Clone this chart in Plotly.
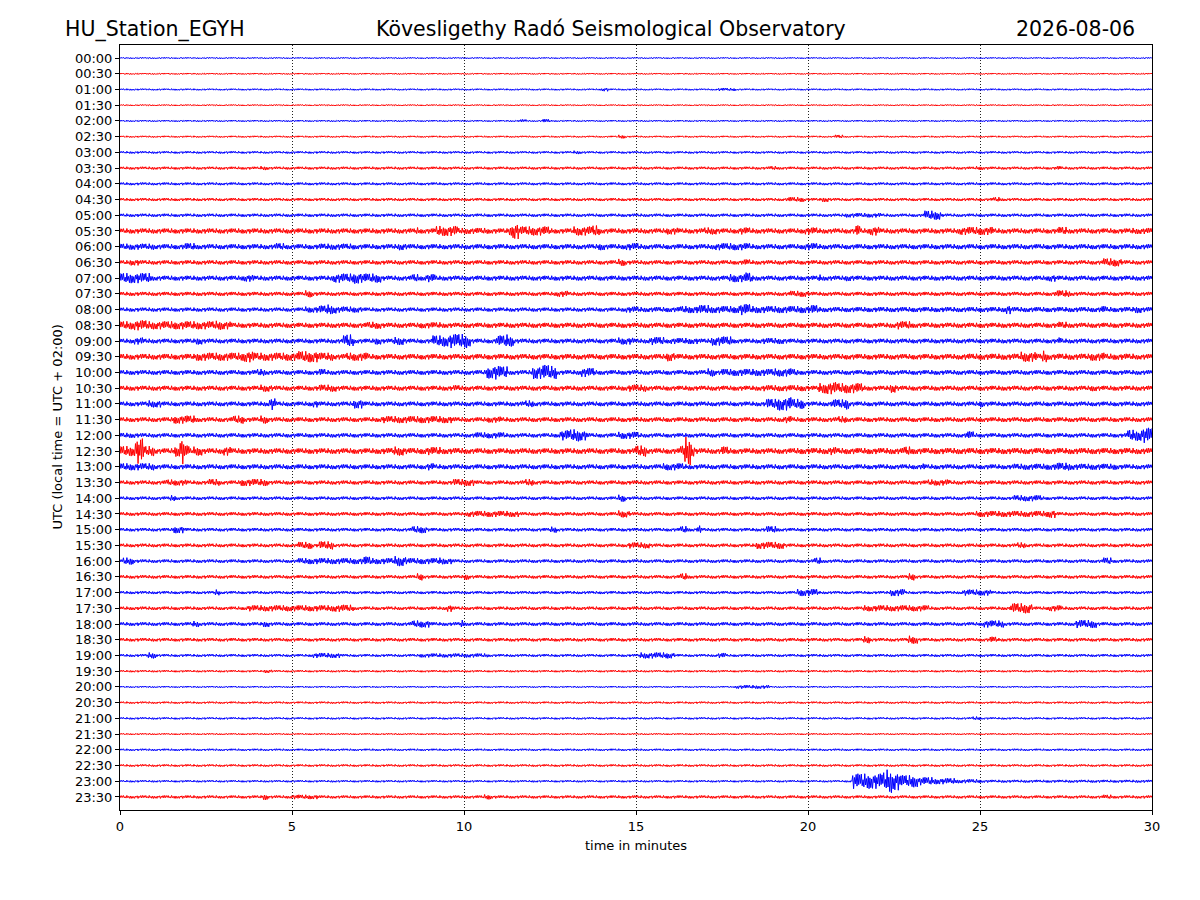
import numpy as np
import plotly.graph_objects as go

# ---------------- data ----------------
ROW_LABELS = ["00:00", "00:30", "01:00", "01:30", "02:00", "02:30", "03:00", "03:30",
              "04:00", "04:30", "05:00", "05:30", "06:00", "06:30", "07:00", "07:30",
              "08:00", "08:30", "09:00", "09:30", "10:00", "10:30", "11:00", "11:30",
              "12:00", "12:30", "13:00", "13:30", "14:00", "14:30", "15:00", "15:30",
              "16:00", "16:30", "17:00", "17:30", "18:00", "18:30", "19:00", "19:30",
              "20:00", "20:30", "21:00", "21:30", "22:00", "22:30", "23:00", "23:30"]

X_TICKS = [0, 5, 10, 15, 20, 25, 30]

# background noise half-amplitude per row (counts; ~15.7 counts = one row spacing)
BASE_LEVEL = [0.8, 0.8, 0.9, 0.8, 0.9, 0.9, 1.2, 1.4, 1.4, 1.5,
              1.6, 2.5, 2.5, 2.1, 2.4, 2.0, 2.0, 2.5, 2.3, 2.7,
              2.3, 2.4, 2.3, 2.3, 2.1, 2.7, 2.4, 2.0, 1.7, 1.8,
              1.7, 1.8, 1.7, 1.7, 1.5, 1.7, 1.8, 1.7, 1.4, 1.1,
              0.9, 1.1, 1.1, 0.9, 1.1, 1.2, 1.1, 1.5]

# bursts: (row, start minute, end minute, half-amplitude counts)
EVENTS = [
    (2, 14.0, 14.2, 1.8), (2, 17.4, 17.9, 1.5),
    (4, 11.6, 11.8, 1.5), (4, 12.3, 12.5, 1.8),
    (5, 14.5, 14.7, 1.8), (5, 20.8, 21.0, 1.8),
    (6, 13.2, 13.4, 1.7),
    (7, 4.1, 4.3, 2.0), (7, 18.9, 19.1, 2.0), (7, 24.9, 25.1, 1.9), (7, 27.2, 27.4, 2.0),
    (9, 19.4, 19.9, 2.4), (9, 20.4, 20.6, 2.4), (9, 25.4, 25.6, 2.4),
    (10, 21.1, 22.1, 2.2), (10, 23.4, 23.9, 4.5),
    (11, 8.6, 8.7, 3.5), (11, 9.2, 9.8, 5.0), (11, 9.8, 10.7, 3.0), (11, 11.3, 12.5, 4.5),
    (11, 11.4, 11.6, 8.0), (11, 13.2, 13.95, 4.5), (11, 13.75, 13.9, 5.5), (11, 15.9, 16.2, 3.5),
    (11, 17.0, 17.35, 3.5), (11, 18.0, 18.3, 3.5), (11, 19.9, 20.3, 3.5), (11, 21.4, 21.5, 5.5),
    (11, 21.8, 22.05, 4.5), (11, 24.4, 25.4, 4.0), (11, 27.3, 27.5, 4.0), (11, 29.4, 30.0, 3.0),
    (12, 0.0, 1.0, 3.0), (12, 1.9, 2.2, 3.5), (12, 4.55, 4.75, 3.5), (12, 5.8, 6.8, 3.0),
    (12, 8.1, 8.3, 3.5), (12, 13.9, 14.1, 3.5), (12, 14.7, 15.1, 3.5), (12, 17.3, 18.3, 3.5),
    (12, 19.9, 20.3, 3.5),
    (13, 0.3, 0.6, 3.0), (13, 14.5, 14.7, 3.5), (13, 18.1, 18.3, 3.0), (13, 28.6, 29.1, 4.0),
    (14, 0.0, 0.9, 5.0), (14, 3.6, 3.9, 3.5), (14, 6.2, 7.6, 4.5), (14, 6.8, 7.0, 5.5),
    (14, 8.5, 8.7, 4.0), (14, 8.9, 9.2, 4.0), (14, 17.7, 18.4, 4.0), (14, 18.2, 18.35, 5.5),
    (14, 20.3, 20.4, 3.5), (14, 21.1, 21.3, 3.0), (14, 27.0, 27.2, 3.5),
    (15, 5.4, 5.6, 3.5), (15, 12.7, 13.0, 3.0), (15, 19.5, 20.0, 3.0), (15, 27.2, 27.6, 3.5),
    (16, 5.4, 7.0, 3.0), (16, 5.8, 6.3, 4.0), (16, 6.0, 6.15, 5.0), (16, 14.7, 15.1, 3.0),
    (16, 15.0, 30.0, 2.5), (16, 16.3, 20.3, 3.5), (16, 16.8, 17.1, 4.5), (16, 18.0, 18.3, 5.5),
    (16, 20.1, 20.3, 4.5), (16, 25.75, 25.9, 4.5), (16, 28.5, 28.7, 3.5), (16, 29.5, 29.7, 3.5),
    (17, 0.0, 3.2, 4.0), (17, 0.4, 0.8, 5.0), (17, 2.8, 3.0, 4.5), (17, 7.2, 7.6, 3.5),
    (17, 8.7, 9.3, 3.0), (17, 22.6, 23.0, 4.0), (17, 27.3, 27.5, 3.5),
    (18, 0.4, 0.7, 3.5), (18, 2.2, 2.4, 3.5), (18, 6.5, 6.8, 5.5), (18, 6.6, 6.7, 6.5),
    (18, 7.4, 7.6, 3.5), (18, 7.95, 8.25, 4.0), (18, 9.1, 10.2, 5.5), (18, 9.6, 10.1, 7.0),
    (18, 10.95, 11.45, 5.5), (18, 11.2, 11.3, 6.5), (18, 14.5, 14.9, 3.5), (18, 15.4, 15.8, 4.0),
    (18, 16.0, 16.8, 3.0), (18, 17.2, 17.8, 4.5), (18, 18.7, 19.3, 3.0), (18, 27.3, 27.4, 3.5),
    (19, 0.0, 2.2, 2.8), (19, 2.2, 6.2, 4.0), (19, 3.6, 3.9, 5.5), (19, 5.2, 5.8, 5.5),
    (19, 6.6, 7.2, 4.0), (19, 15.9, 16.1, 4.5), (19, 24.5, 29.5, 3.0), (19, 26.2, 26.65, 5.0),
    (19, 26.8, 26.95, 6.0), (19, 28.2, 28.6, 4.0),
    (20, 4.0, 4.2, 3.5), (20, 5.8, 5.95, 3.5), (20, 10.65, 11.25, 6.0), (20, 10.85, 11.0, 7.0),
    (20, 12.0, 12.7, 6.5), (20, 12.3, 12.5, 7.5), (20, 13.4, 13.8, 4.5), (20, 17.1, 17.3, 4.0),
    (20, 17.5, 19.7, 3.5), (20, 19.0, 19.5, 4.0),
    (21, 4.1, 4.4, 3.5), (21, 5.8, 6.3, 3.5), (21, 9.7, 9.9, 3.0), (21, 14.8, 15.3, 3.5),
    (21, 18.7, 20.0, 3.0), (21, 20.3, 21.6, 5.0), (21, 20.5, 20.8, 6.0), (21, 22.4, 22.55, 4.5),
    (21, 28.2, 28.4, 3.0),
    (22, 0.8, 1.2, 3.5), (22, 4.35, 4.5, 6.0), (22, 5.6, 5.8, 3.5), (22, 6.8, 7.1, 4.5),
    (22, 11.8, 12.0, 3.5), (22, 18.8, 19.9, 5.0), (22, 19.1, 19.5, 6.5), (22, 20.7, 21.2, 4.5),
    (22, 21.1, 21.2, 5.5), (22, 25.0, 25.1, 3.5),
    (23, 1.55, 2.2, 4.0), (23, 3.3, 3.6, 4.0), (23, 4.1, 4.3, 4.0), (23, 7.6, 9.7, 3.5),
    (23, 10.7, 11.1, 3.0), (23, 19.3, 19.5, 3.5), (23, 20.9, 21.1, 3.5),
    (24, 0.0, 0.5, 2.5), (24, 10.3, 11.2, 3.0), (24, 12.8, 13.6, 5.0), (24, 13.1, 13.4, 6.0),
    (24, 14.5, 15.1, 3.5), (24, 24.6, 24.8, 4.0), (24, 29.3, 30.0, 5.5), (24, 29.7, 30.0, 7.5),
    (25, 0.0, 1.0, 5.0), (25, 0.45, 0.7, 12.5), (25, 1.6, 2.05, 5.5), (25, 1.75, 1.9, 13.0),
    (25, 2.15, 2.4, 4.5), (25, 3.0, 3.2, 4.5), (25, 7.5, 10.0, 3.0), (25, 7.95, 8.25, 4.5),
    (25, 8.9, 9.3, 4.0), (25, 15.0, 15.3, 5.5), (25, 16.3, 16.7, 5.5), (25, 16.4, 16.6, 14.0),
    (25, 17.5, 17.7, 4.5), (25, 19.6, 30.0, 3.0), (25, 20.6, 20.8, 4.0), (25, 22.8, 23.0, 4.5),
    (26, 0.0, 1.0, 3.5), (26, 8.95, 9.1, 3.5), (26, 15.8, 16.4, 3.5), (26, 23.3, 23.4, 3.5),
    (26, 26.0, 29.0, 3.0), (26, 27.2, 27.6, 4.0),
    (27, 1.35, 1.95, 3.0), (27, 2.6, 2.9, 3.5), (27, 3.5, 4.3, 3.5), (27, 9.7, 10.3, 3.5),
    (27, 11.8, 12.0, 3.5), (27, 23.5, 24.1, 3.0),
    (28, 1.45, 1.6, 3.0), (28, 14.5, 14.7, 3.5), (28, 26.0, 26.8, 3.0),
    (29, 10.1, 11.6, 3.0), (29, 14.5, 14.8, 3.5), (29, 24.9, 27.2, 3.0), (29, 27.0, 27.2, 4.0),
    (30, 1.55, 1.85, 3.5), (30, 8.5, 8.9, 3.5), (30, 12.5, 12.7, 3.0), (30, 16.3, 16.5, 3.5),
    (30, 16.8, 16.9, 4.5), (30, 18.8, 19.1, 3.5),
    (31, 5.2, 5.6, 3.5), (31, 5.8, 6.2, 4.0), (31, 14.8, 15.4, 3.0), (31, 18.5, 19.3, 3.5),
    (31, 26.1, 26.3, 3.0),
    (32, 0.1, 0.4, 3.5), (32, 5.2, 9.7, 3.0), (32, 7.1, 7.3, 4.5), (32, 8.0, 8.3, 5.0),
    (32, 9.25, 9.4, 3.5), (32, 20.2, 20.4, 3.5), (32, 28.6, 28.8, 3.5),
    (33, 8.65, 8.8, 3.5), (33, 10.0, 10.15, 3.0), (33, 16.3, 16.5, 3.5), (33, 22.9, 23.1, 3.5),
    (34, 2.75, 2.9, 3.0), (34, 19.7, 20.3, 3.5), (34, 22.4, 22.8, 3.5), (34, 24.5, 25.3, 3.0),
    (35, 3.7, 6.8, 3.0), (35, 6.2, 6.7, 3.5), (35, 9.5, 9.7, 3.5), (35, 21.6, 23.5, 3.0),
    (35, 25.9, 26.5, 5.0), (35, 27.0, 27.4, 3.0),
    (36, 2.1, 2.3, 3.0), (36, 4.15, 4.35, 3.0), (36, 8.5, 9.0, 3.5), (36, 9.9, 10.0, 4.0),
    (36, 25.1, 25.7, 3.5), (36, 27.8, 28.4, 4.0),
    (37, 21.6, 21.8, 3.5), (37, 22.9, 23.2, 4.0), (37, 25.3, 25.5, 3.0),
    (38, 0.8, 1.05, 3.0), (38, 5.6, 6.4, 2.5), (38, 8.7, 10.7, 2.0), (38, 15.1, 16.1, 3.0),
    (38, 17.4, 17.6, 2.5),
    (39, 4.2, 4.4, 1.8),
    (40, 17.9, 18.9, 1.8),
    (42, 24.8, 25.0, 1.8),
    (46, 21.3, 22.2, 7.5), (46, 22.2, 22.7, 9.0), (46, 22.3, 22.45, 11.5), (46, 22.7, 23.2, 6.0),
    (46, 23.2, 23.6, 4.0), (46, 23.6, 24.3, 3.0), (46, 24.3, 25.0, 2.0), (46, 25.0, 30.0, 1.4),
    (47, 4.15, 4.3, 3.0), (47, 5.0, 5.8, 2.2), (47, 10.6, 10.8, 2.5), (47, 28.6, 28.8, 2.2),
]

# ---------------- rendering settings ----------------
COUNTS_PER_ROW = 15.7
DT = 0.025                      # drawing step in minutes
TEXTURE = [1.0, 0.45, 0.85, 0.3, 0.95, 0.6, 0.2, 0.75, 1.0, 0.5, 0.35, 0.9, 0.65]
COLORS = ["#0000ff", "#ff0000"]
FONT = "DejaVu Sans"

t = np.arange(0.0, 30.0 + DT / 2, DT)
n = len(t)
tex = np.array([TEXTURE[i % len(TEXTURE)] for i in range(n)])
sign = np.where(np.arange(n) % 2 == 0, 1.0, -1.0)

fig = go.Figure()
for k, lab in enumerate(ROW_LABELS):
    env = np.full(n, BASE_LEVEL[k])
    for (row, a, b, amp) in EVENTS:
        if row == k:
            m = (t >= a) & (t <= b)
            env[m] = np.maximum(env[m], amp)
    y = k - sign * tex * env / COUNTS_PER_ROW
    fig.add_trace(go.Scatter(x=t, y=y, mode="lines",
                             line=dict(color=COLORS[k % 2], width=1.0, simplify=False),
                             hoverinfo="skip", showlegend=False))

# page offset of the plot div (browser body margin)
OFF = 8
W, H = 1200, 900
# plot area in page pixels
PX0, PX1, PY0, PY1 = 120, 1152, 45, 810

def px(xp):
    return (xp - PX0) / (PX1 - PX0)

def py(yp):
    return (PY1 - yp) / (PY1 - PY0)

fig.update_layout(
    width=W, height=H,
    margin=dict(l=PX0 - OFF, r=W + OFF - PX1, t=PY0 - OFF, b=H + OFF - PY1),
    paper_bgcolor="white", plot_bgcolor="white",
    font=dict(family=FONT, color="black", size=13),
    xaxis=dict(range=[0, 30], tickvals=X_TICKS, ticktext=[str(v) for v in X_TICKS],
               showgrid=True, gridcolor="#222222", gridwidth=0.7, griddash="1px,2px",
               showline=True, linecolor="black", linewidth=1, mirror=True,
               ticks="outside", ticklen=4, tickcolor="black", zeroline=False,
               tickfont=dict(size=13)),
    yaxis=dict(range=[47.83, -0.83], tickvals=list(range(len(ROW_LABELS))),
               ticktext=ROW_LABELS, showgrid=False, zeroline=False,
               showline=True, linecolor="black", linewidth=1, mirror=True,
               ticks="outside", ticklen=4, tickcolor="black",
               tickfont=dict(size=13)),
    annotations=[
        dict(text="HU_Station_EGYH", x=px(63), y=py(29), xref="paper", yref="paper",
             xanchor="left", yanchor="middle", showarrow=False, font=dict(size=20.5)),
        dict(text="Kövesligethy Radó Seismological Observatory", x=px(611), y=py(29),
             xref="paper", yref="paper", xanchor="center", yanchor="middle",
             showarrow=False, font=dict(size=20.5)),
        dict(text="2026-08-06", x=px(1137), y=py(29), xref="paper", yref="paper",
             xanchor="right", yanchor="middle", showarrow=False, font=dict(size=20.5)),
        dict(text="UTC (local time = UTC + 02:00)", x=px(57), y=0.5, xref="paper",
             yref="paper", xanchor="center", yanchor="middle", textangle=-90,
             showarrow=False, font=dict(size=13)),
        dict(text="time in minutes", x=0.5, y=py(845), xref="paper", yref="paper",
             xanchor="center", yanchor="middle", showarrow=False, font=dict(size=13)),
    ],
)

fig.write_html("out.html")
